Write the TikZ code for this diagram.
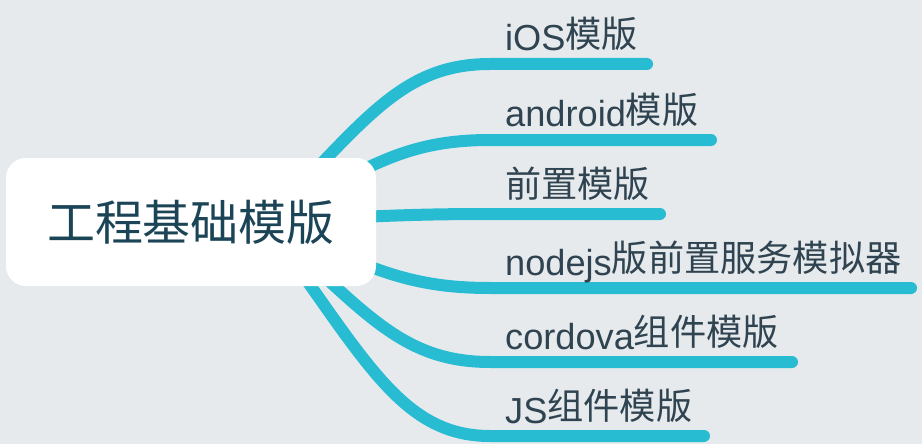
\documentclass[tikz,border=0pt]{standalone}
\usepackage{fontspec}
\setmainfont{Liberation Sans}
\newfontfamily\cjkf{Noto Sans CJK SC}
\usetikzlibrary{calc}
\definecolor{bgc}{HTML}{E6EAED}
\definecolor{branchc}{HTML}{28BCD2}
\definecolor{txtc}{HTML}{2F4450}
\definecolor{roottxt}{HTML}{1B4557}
\newcommand\zh[1]{\raisebox{0.09em}{\cjkf #1}}
\pgfdeclarelayer{lines}
\pgfsetlayers{lines,main}
\tikzset{
  rootbox/.style={fill=white, rounded corners=20pt, minimum width=370pt, minimum height=128pt,
    inner sep=0pt, text=roottxt, font=\cjkf\fontsize{48}{56}\selectfont},
  lbl/.style={anchor=base west, inner sep=0pt, text=txtc, font=\fontsize{36.2}{44}\selectfont},
  branch/.style={draw=branchc, line width=12pt, line cap=round}
}
\begin{document}
\begin{tikzpicture}[x=1pt,y=-1pt]
\begin{pgfonlayer}{lines}
\fill[bgc] (0,0) rectangle (922,444);
\end{pgfonlayer}
\useasboundingbox (0,0) rectangle (922,444);
\node[rootbox] (root) at (191,222) {工程基础模版};
\coordinate (s) at ($(root.center)+(74,0)$);
\node[lbl] (n1) at (505,51) {iOS\zh{模版}};
\node[lbl] (n2) at (505,127) {android\zh{模版}};
\node[lbl] (n3) at (505,201) {\zh{前置模版}};
\node[lbl] (n4) at (505,275) {nodejs\zh{版前置服务模拟器}};
\node[lbl] (n5) at (505,349) {cordova\zh{组件模版}};
\node[lbl] (n6) at (505,423) {JS\zh{组件模版}};
\begin{pgfonlayer}{lines}
\foreach \n/\y/\e in {1/64/647, 2/140/711, 3/214/660, 4/288/911, 5/362/792, 6/436/704}{
  \draw[branch] (s) .. controls ($(s)+(99,{0.63*(\y-222)})$) and (400,\y) .. (490,\y) -- (\e,\y) coordinate (e\n);
}
\end{pgfonlayer}
\end{tikzpicture}
\end{document}
